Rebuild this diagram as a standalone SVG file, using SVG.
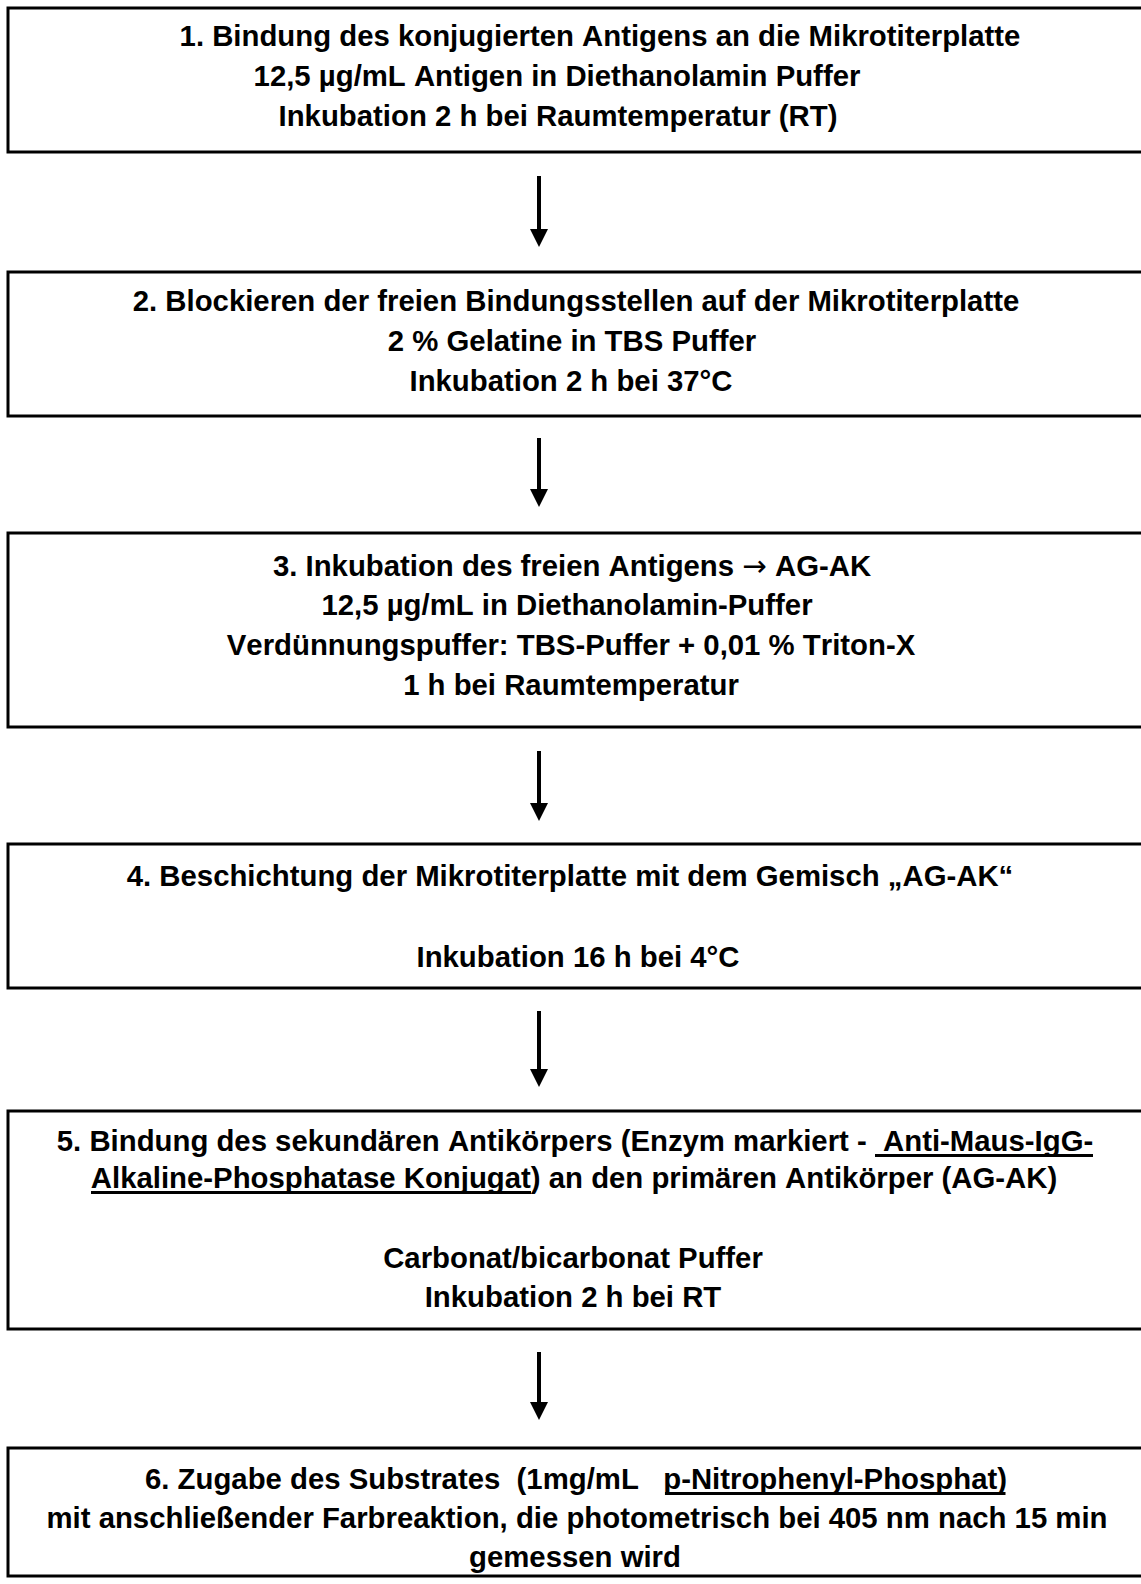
<svg xmlns="http://www.w3.org/2000/svg" width="1141" height="1584" viewBox="0 0 1141 1584">
<style>
.box{fill:#fff;stroke:#000;stroke-width:3}
.t{font-family:"Liberation Sans",Arial,sans-serif;font-weight:bold;font-size:29.33px;fill:#000;text-anchor:middle;white-space:pre;font-kerning:none}
.ul{stroke:#000;stroke-width:3}
.sym{font-family:"DejaVu Sans",sans-serif;font-weight:normal}
.arr{stroke:#000;stroke-width:4;fill:none}
</style>
<defs>
<marker id="ah" viewBox="0 0 18 18" refX="0" refY="9" markerWidth="18" markerHeight="18" markerUnits="userSpaceOnUse" orient="auto">
<path d="M0,0 L18,9 L0,18 z" fill="#000"/>
</marker>
</defs>
<rect width="1141" height="1584" fill="#fff"/>
<g id="step1">
<rect class="box" x="8" y="8" width="1150" height="144"/>
<text class="t" x="600" y="46">1. Bindung des konjugierten Antigens an die Mikrotiterplatte</text>
<text class="t" x="557" y="86">12,5 µg/mL Antigen in Diethanolamin Puffer</text>
<text class="t" x="558" y="126">Inkubation 2 h bei Raumtemperatur (RT)</text>
</g>
<g id="step2">
<rect class="box" x="8" y="272" width="1150" height="144"/>
<text class="t" x="576" y="311">2. Blockieren der freien Bindungsstellen auf der Mikrotiterplatte</text>
<text class="t" x="572" y="351">2 % Gelatine in TBS Puffer</text>
<text class="t" x="571" y="391">Inkubation 2 h bei 37°C</text>
</g>
<g id="step3">
<rect class="box" x="8" y="533" width="1150" height="194"/>
<text class="t" x="572" y="576">3. Inkubation des freien Antigens <tspan class="sym">→</tspan> AG-AK</text>
<text class="t" x="567" y="615">12,5 µg/mL in Diethanolamin-Puffer</text>
<text class="t" x="571" y="655">Verdünnungspuffer: TBS-Puffer + 0,01 % Triton-X</text>
<text class="t" x="571" y="695">1 h bei Raumtemperatur</text>
</g>
<g id="step4">
<rect class="box" x="8" y="844" width="1150" height="144"/>
<text class="t" x="570" y="886">4. Beschichtung der Mikrotiterplatte mit dem Gemisch „AG-AK“</text>
<text class="t" x="578" y="967">Inkubation 16 h bei 4°C</text>
</g>
<g id="step5">
<rect class="box" x="8" y="1111" width="1150" height="218"/>
<text class="t" x="575" y="1151">5. Bindung des sekundären Antikörpers (Enzym markiert -  Anti-Maus-IgG-</text>
<line class="ul" x1="875" y1="1155.5" x2="1093" y2="1155.5"/>
<text class="t" x="574" y="1188">Alkaline-Phosphatase Konjugat) an den primären Antikörper (AG-AK)</text>
<line class="ul" x1="91" y1="1192.5" x2="531" y2="1192.5"/>
<text class="t" x="573" y="1268">Carbonat/bicarbonat Puffer</text>
<text class="t" x="573" y="1307">Inkubation 2 h bei RT</text>
</g>
<g id="step6">
<rect class="box" x="8" y="1448" width="1150" height="128"/>
<text class="t" x="576" y="1489">6. Zugabe des Substrates  (1mg/mL   p-Nitrophenyl-Phosphat)</text>
<line class="ul" x1="665" y1="1493.5" x2="1005.5" y2="1493.5"/>
<text class="t" x="577" y="1528">mit anschließender Farbreaktion, die photometrisch bei 405 nm nach 15 min</text>
<text class="t" x="575" y="1567">gemessen wird</text>
</g>
<g id="connectors">
<line class="arr" x1="539" y1="176" x2="539" y2="229" marker-end="url(#ah)"/>
<line class="arr" x1="539" y1="438" x2="539" y2="489" marker-end="url(#ah)"/>
<line class="arr" x1="539" y1="751" x2="539" y2="803" marker-end="url(#ah)"/>
<line class="arr" x1="539" y1="1011" x2="539" y2="1069" marker-end="url(#ah)"/>
<line class="arr" x1="539" y1="1352" x2="539" y2="1402" marker-end="url(#ah)"/>
</g>
</svg>
